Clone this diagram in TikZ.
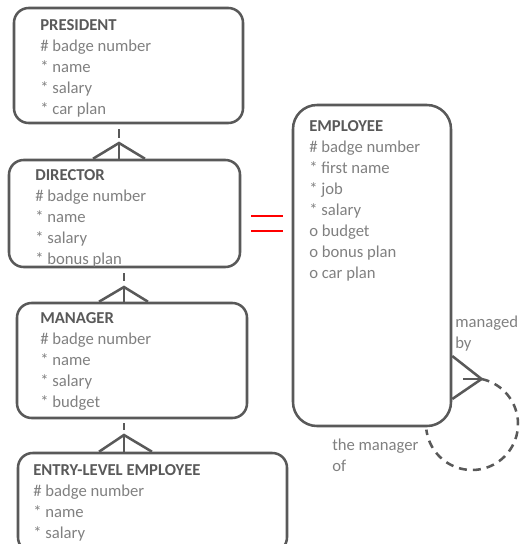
\documentclass[tikz,border=0pt]{standalone}
\usepackage{fontspec}
\setmainfont{Carlito}
\usetikzlibrary{calc}

\newlength\pxl
\setlength\pxl{0.75pt}
\definecolor{linegray}{HTML}{595959}
\definecolor{textgray}{HTML}{808080}
\definecolor{eqred}{HTML}{FF0000}

\tikzset{
  box/.style={draw=linegray, line width=1.9pt, rounded corners=11pt, inner sep=0pt},
  attr/.style={anchor=north west, inner sep=0pt, align=left, text=textgray,
    font=\fontsize{12.5}{15.75}\selectfont},
  link/.style={draw=linegray, line width=1.9pt},
}
\newcommand\enttitle[1]{\strut\textbf{\color{linegray}#1}}

\begin{document}
\begin{tikzpicture}[x=0.75pt,y=0.75pt,yscale=-1,xscale=1]
\useasboundingbox (0,0) rectangle (520,544);
\clip (0,0) rectangle (520,544);

%Boxes
\node[box, minimum width=229\pxl, minimum height=115\pxl] (pres) at (128.5,65.5) {};
\node[box, minimum width=231\pxl, minimum height=107\pxl] (dir) at (124.5,213.5) {};
\node[box, minimum width=230\pxl, minimum height=115\pxl] (mgr) at (132,360.5) {};
\node[box, minimum width=269\pxl, minimum height=99\pxl] (entry) at (152.5,502.5) {};
\node[box, rounded corners=18pt, minimum width=158\pxl, minimum height=321\pxl] (emp) at (372,265.5) {};

% Text Node
\node[attr] (pres-t) at (40,15.8) {\enttitle{PRESIDENT}\\\# badge number\\* name\\* salary\\* car plan};
% Text Node
\node[attr] (dir-t) at (35,165.8) {\enttitle{DIRECTOR}\\\# badge number\\* name\\* salary\\* bonus plan};
% Text Node
\node[attr] (mgr-t) at (40,308.8) {\enttitle{MANAGER}\\\# badge number\\* name\\* salary\\* budget};
% Text Node
\node[attr] (entry-t) at (33,460.8) {\enttitle{ENTRY-LEVEL EMPLOYEE}\\\# badge number\\* name\\* salary};
% Text Node
\node[attr] (emp-t) at (309,116.8) {\enttitle{EMPLOYEE}\\\# badge number\\* first name\\* job\\* salary\\o budget\\o bonus plan\\o car plan};

%Subtype links
\coordinate (pd) at (119,143);
\coordinate (dm) at (124,287);
\coordinate (me) at (124,435);
\draw[link] ($(pres.south -| pd)+(0,5)$) -- ++(0,9);
\draw[link] ($(dir.north -| pd)+(-26,0)$) -- (pd) -- ($(dir.north -| pd)+(26,0)$);
\draw[link] (pd) -- (dir.north -| pd);
\draw[link] ($(dir.south -| dm)+(0,5)$) -- ++(0,8);
\draw[link] ($(mgr.north -| dm)+(-25,0)$) -- (dm) -- ($(mgr.north -| dm)+(24,0)$);
\draw[link] (dm) -- (mgr.north -| dm);
\draw[link] ($(mgr.south -| me)+(0,4)$) -- ++(0,7);
\draw[link] ($(entry.north -| me)+(-25,0)$) -- (me) -- ($(entry.north -| me)+(28,0)$);
\draw[link] (me) -- (entry.north -| me);

%Equals sign
\draw[eqred, line width=1.9pt] (251,216) -- (283,216);
\draw[eqred, line width=1.9pt] (251,231) -- (283,231);

%Recursive link
\coordinate (loopc) at (472,424);
\coordinate (ear) at ($(loopc)+(-78:46)$);
\draw[link] ($(ear -| emp.east)+(0,-23)$) -- (ear) -- ($(ear -| emp.east)+(0,20)$);
\draw[link] ($(ear -| emp.east)+(11,0)$) -- (ear);
\draw[link, dash pattern=on 6pt off 4.5pt] plot[domain=-78:173, samples=60] ({472+46*cos(\x)},{424+46*sin(\x)});

% Text Node
\node[attr] (mby) at (455,312.3) {\strut managed\\by};
% Text Node
\node[attr] (mof) at (332,435.3) {\strut the manager\\of};

\end{tikzpicture}
\end{document}
